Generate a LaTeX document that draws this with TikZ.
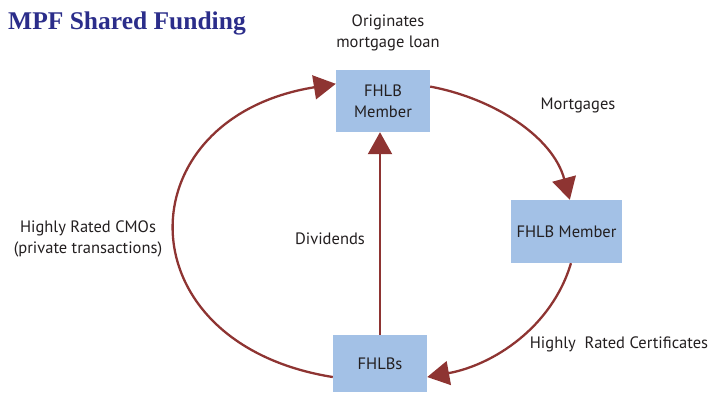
\documentclass[tikz,border=0pt]{standalone}
\usepackage{fontspec}
\usepackage{tikz}
\usepackage{xcolor}
\usetikzlibrary{arrows.meta,positioning}

\newfontfamily\labelfont{PT Sans}
\newfontfamily\titlefont{Liberation Serif}

\definecolor{boxblue}{RGB}{163,193,230}
\definecolor{flowred}{RGB}{142,52,50}
\definecolor{labelgray}{RGB}{35,31,32}
\definecolor{titleblue}{RGB}{43,45,138}

\begin{document}
\begin{tikzpicture}[
    x=1pt, y=-1pt,
    box/.style={rectangle, fill=boxblue, text=labelgray, inner sep=0pt, align=center, font=\labelfont\fontsize{16.5}{21}\selectfont},
    lbl/.style={text=labelgray, inner sep=0pt, align=center, font=\labelfont\fontsize{16.5}{21}\selectfont},
    flow/.style={->, >={Triangle[length=22pt, width=24pt]}, line width=2.3pt, draw=flowred}
]
\useasboundingbox (0,0) rectangle (723,392);

\node[anchor=base west, inner sep=0pt, text=titleblue, font=\titlefont\bfseries\fontsize{25.5}{30}\selectfont] (title) at (8,29) {MPF Shared Funding};

\node[box, minimum width=94pt, minimum height=62pt] (member) at (383,101) {FHLB\\Member};
\node[box, minimum width=111pt, minimum height=63pt] (lender) at (566.5,231.5) {FHLB Member};
\node[box, minimum width=94pt, minimum height=57pt] (fhlbs) at (380,363.5) {FHLBs};

\node[lbl, above=19pt of member, xshift=5pt] (originates) {Originates\\mortgage loan};
\node[lbl] (mortgages) at (578,105) {Mortgages};
\node[lbl] (cmos) at (88,239) {Highly Rated CMOs\\(private transactions)};
\node[lbl] (dividends) at (330,239) {Dividends};
\node[lbl] (certs) at (619,344) {Highly\ \ Rated Certificates};

\draw[flow] (fhlbs.196) .. controls +(-212,-34) and +(-212,34) .. (member.160);
\draw[flow] (member.17) .. controls +(64,12) and +(-17,-63) .. (lender.84);
\draw[flow] (lender.278) .. controls +(-19,64) and +(66,-12) .. (fhlbs.344);
\draw[flow] (fhlbs.north) -- (fhlbs.north |- member.south);

\end{tikzpicture}
\end{document}
